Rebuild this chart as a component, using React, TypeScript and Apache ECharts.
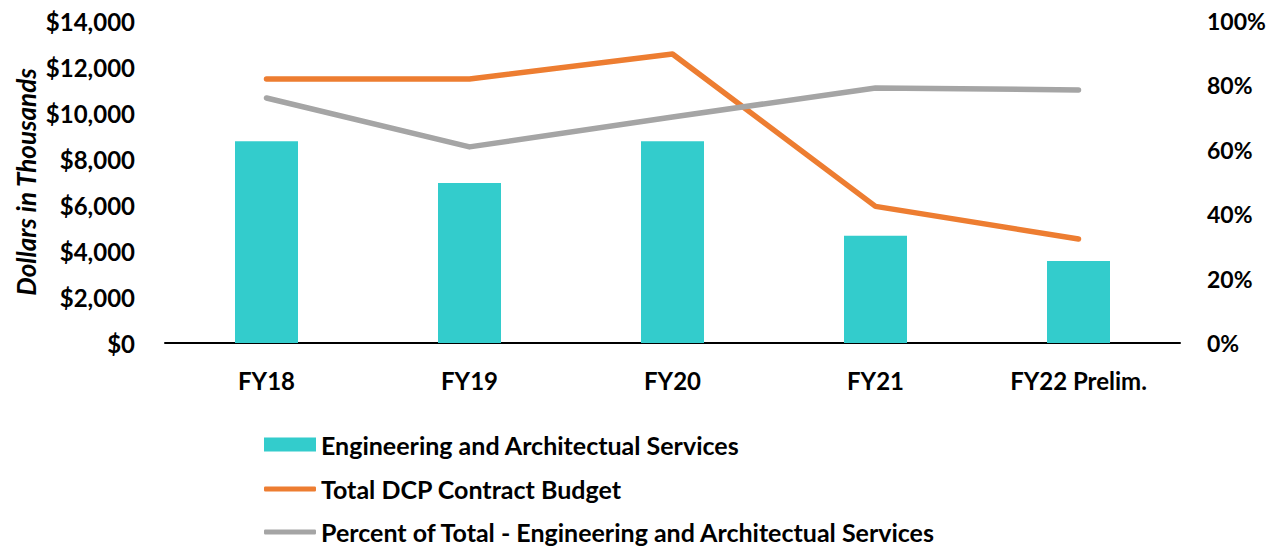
import React, { useEffect, useRef } from "react";
import * as echarts from "echarts";

const categories = ["FY18", "FY19", "FY20", "FY21", "FY22 Prelim."];
const engineeringServices = [8770, 6960, 8770, 4665, 3565];
const totalContractBudget = [11480, 11480, 12565, 5940, 4520];
const percentOfTotal = [76.1, 60.9, 70.2, 79.2, 78.6];

const SERIES_NAMES = [
  "Engineering and Architectual Services",
  "Total DCP Contract Budget",
  "Percent of Total - Engineering and Architectual Services",
];

const FONT = "Lato, 'Open Sans', sans-serif";

const legendText = { fontFamily: FONT, fontSize: 25, fontWeight: "bold", color: "#000" };

export default function App() {
  const ref = useRef<HTMLDivElement>(null);
  useEffect(() => {
    if (!ref.current) return;
    const chart = echarts.init(ref.current, undefined, { renderer: "svg" });
    chart.setOption({
      animation: false,
      backgroundColor: "#ffffff",
      textStyle: { fontFamily: FONT },
      grid: {
        left: 157,
        right: 89,
        top: 13,
        bottom: 205,
        containLabel: false,
        outerBoundsMode: "none",
      },
      legend: [
        {
          left: 256,
          top: 424,
          padding: 0,
          itemWidth: 52,
          itemHeight: 14,
          selectedMode: false,
          textStyle: legendText,
          data: [{ name: SERIES_NAMES[0], icon: "rect" }],
        },
        {
          left: 256,
          top: 468.5,
          padding: 0,
          itemWidth: 52,
          itemHeight: 5,
          selectedMode: false,
          textStyle: legendText,
          data: [{ name: SERIES_NAMES[1], icon: "roundRect" }],
        },
        {
          left: 256,
          top: 511.5,
          padding: 0,
          itemWidth: 52,
          itemHeight: 5,
          selectedMode: false,
          textStyle: legendText,
          data: [{ name: SERIES_NAMES[2], icon: "roundRect" }],
        },
      ],
      xAxis: {
        type: "category",
        data: categories,
        axisLine: { show: true, lineStyle: { color: "#000", width: 2 } },
        axisTick: { show: false },
        axisLabel: {
          margin: 25,
          fontFamily: FONT,
          fontSize: 24,
          fontWeight: "bold",
          color: "#000",
        },
      },
      yAxis: [
        {
          type: "value",
          min: 0,
          max: 14000,
          interval: 2000,
          name: "Dollars in Thousands",
          nameLocation: "middle",
          nameGap: 126,
          nameRotate: 90,
          nameMoveOverlap: false,
          nameTextStyle: {
            fontFamily: FONT,
            fontSize: 26,
            fontWeight: "bold",
            fontStyle: "italic",
            color: "#000",
          },
          axisLine: { show: false },
          axisTick: { show: false },
          splitLine: { show: false },
          axisLabel: {
            margin: 30,
            fontFamily: FONT,
            fontSize: 24,
            fontWeight: "bold",
            color: "#000",
            formatter: (v: number) => "$" + v.toLocaleString("en-US"),
          },
        },
        {
          type: "value",
          min: 0,
          max: 100,
          interval: 20,
          position: "right",
          axisLine: { show: false },
          axisTick: { show: false },
          splitLine: { show: false },
          axisLabel: {
            margin: 27,
            fontFamily: FONT,
            fontSize: 23,
            fontWeight: "bold",
            color: "#000",
            formatter: (v: number) => v + "%",
          },
        },
      ],
      series: [
        {
          name: SERIES_NAMES[0],
          type: "bar",
          data: engineeringServices,
          barWidth: 63,
          itemStyle: { color: "#33CCCC" },
          yAxisIndex: 0,
        },
        {
          name: SERIES_NAMES[1],
          type: "line",
          data: totalContractBudget,
          yAxisIndex: 0,
          symbol: "none",
          lineStyle: { color: "#ED7D31", width: 5.5, cap: "round", join: "round" },
          itemStyle: { color: "#ED7D31" },
        },
        {
          name: SERIES_NAMES[2],
          type: "line",
          data: percentOfTotal,
          yAxisIndex: 1,
          symbol: "none",
          lineStyle: { color: "#A5A5A5", width: 5.5, cap: "round", join: "round" },
          itemStyle: { color: "#A5A5A5" },
        },
      ],
    });
    return () => chart.dispose();
  }, []);
  return <div ref={ref} style={{ width: 1261, height: 540 }} />;
}
